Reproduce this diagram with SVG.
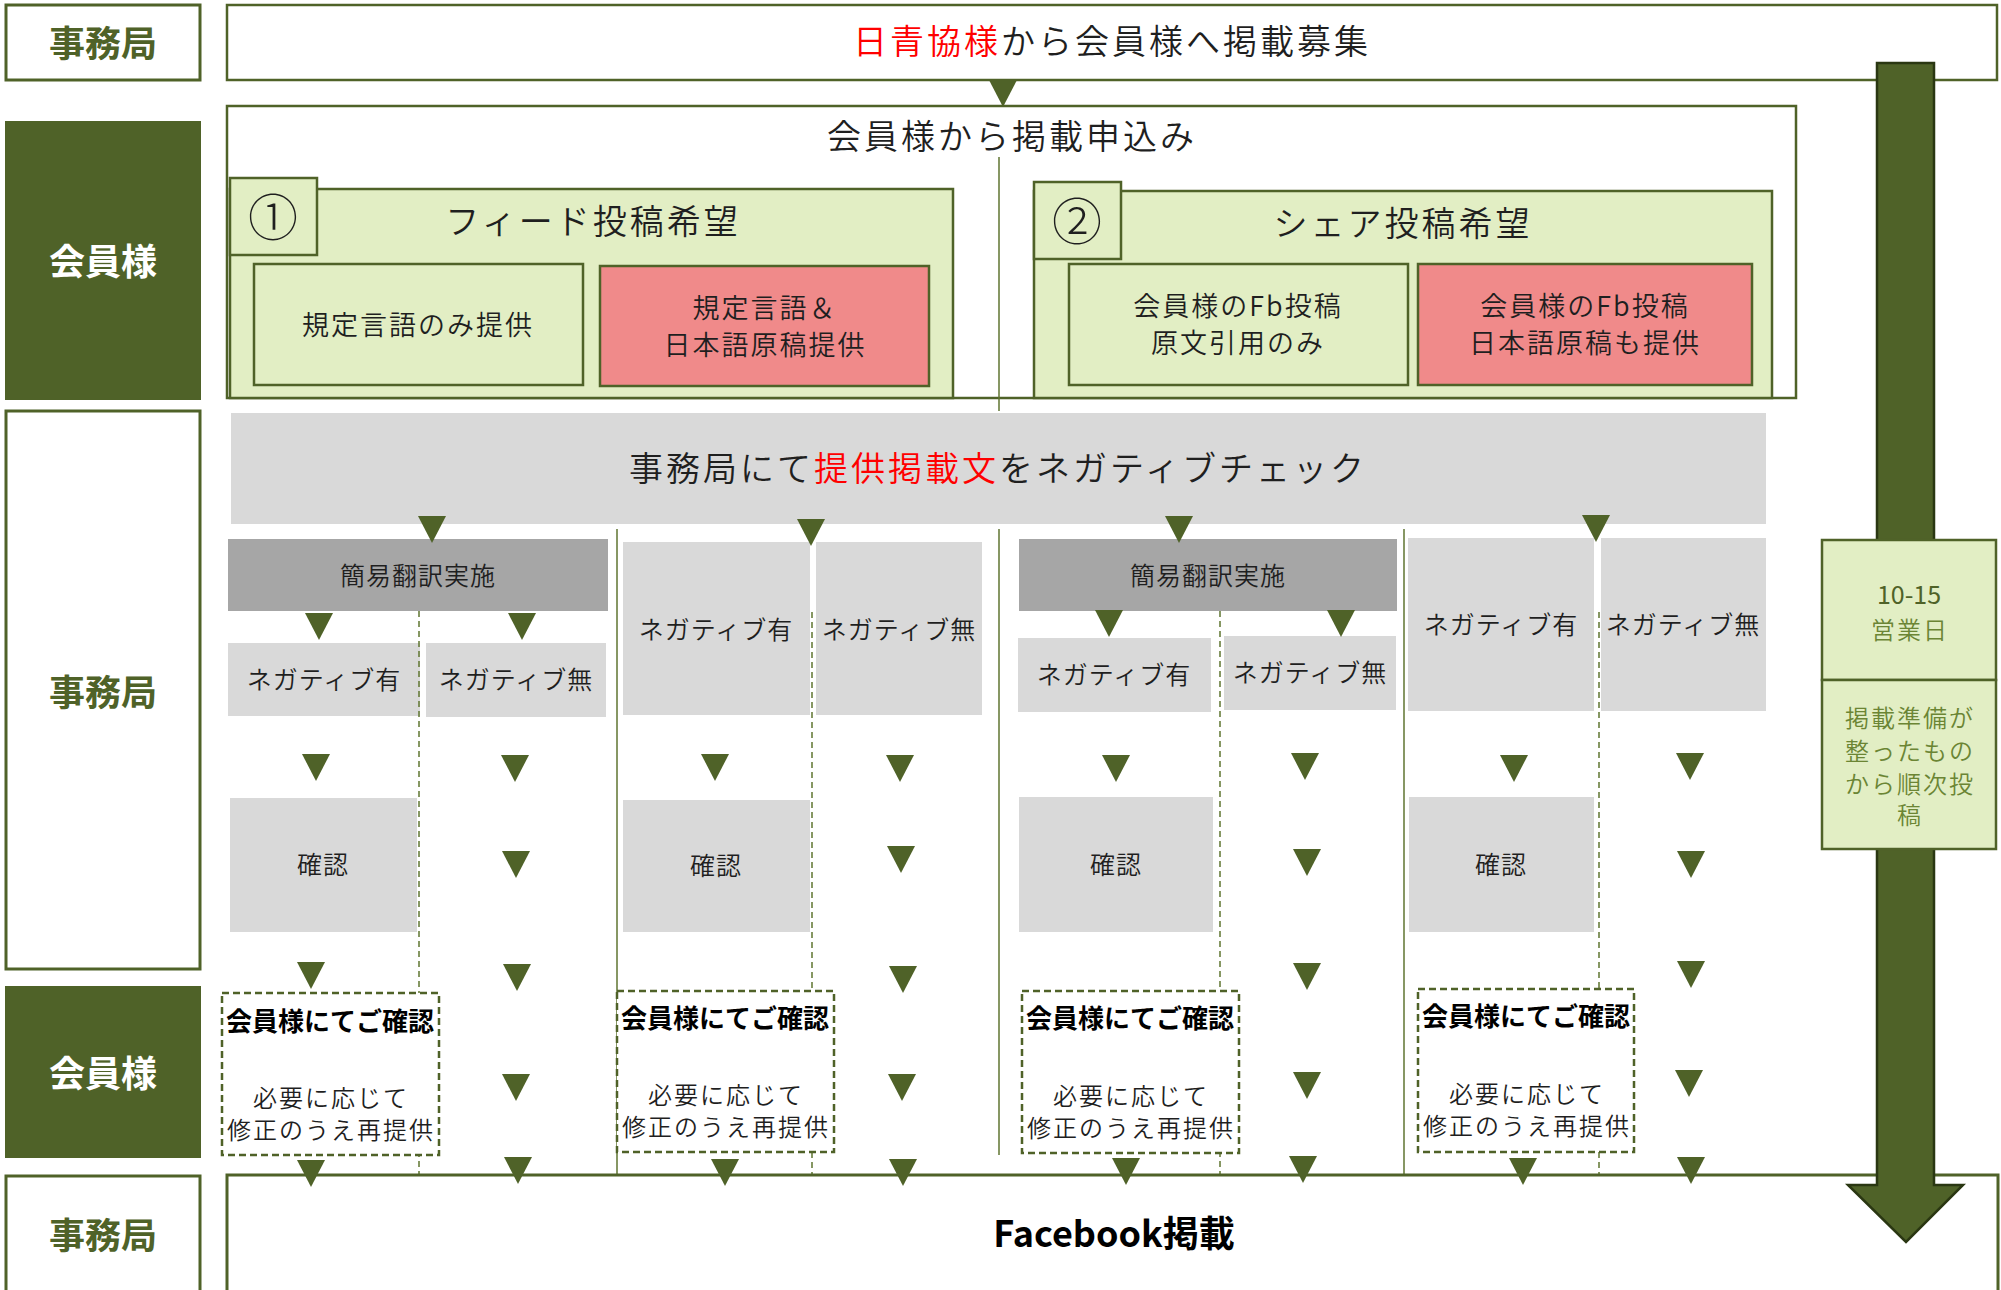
<svg xmlns="http://www.w3.org/2000/svg" xmlns:xlink="http://www.w3.org/1999/xlink" width="2001" height="1290" viewBox="0 0 2001 1290">
<style>
text{font-family:"Noto Sans CJK JP","Noto Sans",sans-serif;dominant-baseline:central;text-anchor:middle;fill:#1f1f1f;font-weight:350}
.lane{fill:#fff;stroke:#4F6228;stroke-width:3}
.lanedark{fill:#4F6228;stroke:#4F6228;stroke-width:2}
.lanetxt{font-size:36px;font-weight:700;fill:#4F6228}
.lanetxtw{font-size:36px;font-weight:700;fill:#fff}
.wbox{fill:#fff;stroke:#4F6228;stroke-width:2.5}
.lg{fill:#E2EEC4;stroke:#4F6228;stroke-width:2.5}
.pink{fill:#F08A8A;stroke:#4F6228;stroke-width:2.5}
.gray{fill:#D9D9D9}
.dgray{fill:#A6A6A6}
.dash{fill:#fff;stroke:#4F6228;stroke-width:2.5;stroke-dasharray:7 4}
.big{font-size:34px;letter-spacing:3px}
.mid{font-size:27px;letter-spacing:2px}
.sm{font-size:25px;letter-spacing:1px}
.note{font-size:24px;letter-spacing:2px}
.red{fill:#FF0000}
.vline{stroke:#5F7530;stroke-width:1.5;fill:none}
.dline{stroke:#5F7530;stroke-width:1.5;stroke-dasharray:6 4;fill:none}
.tri{fill:#4F6228}
.bold{font-size:26px;font-weight:700;fill:#000}
.num{font-size:50px;font-weight:300}
.gtxt{font-size:24px;fill:#6B8534;letter-spacing:2px}
</style>
<defs>
<path id="tri" d="M-14,0 L14,0 L0,27 Z"/>
</defs>

<!-- lane labels -->
<g id="lane-jimukyoku-1"><rect class="lane" x="6" y="5" width="194" height="75"/><text class="lanetxt" x="103" y="41">事務局</text></g>
<g id="lane-kaiin-1"><rect class="lanedark" x="6" y="122" width="194" height="277"/><text class="lanetxtw" x="103" y="259">会員様</text></g>
<g id="lane-jimukyoku-2"><rect class="lane" x="6" y="411" width="194" height="558"/><text class="lanetxt" x="103" y="690">事務局</text></g>
<g id="lane-kaiin-2"><rect class="lanedark" x="6" y="987" width="194" height="170"/><text class="lanetxtw" x="103" y="1071">会員様</text></g>
<g id="lane-jimukyoku-3"><rect class="lane" x="6" y="1176" width="194" height="130"/><text class="lanetxt" x="103" y="1233">事務局</text></g>

<!-- top -->
<g id="boshu"><rect class="wbox" x="227" y="5" width="1770" height="75"/><text class="big" x="1112" y="39"><tspan class="red">日青協様</tspan>から会員様へ掲載募集</text></g>

<g id="moushikomi"><rect class="wbox" x="227" y="106" width="1569" height="292"/><text class="big" x="1012" y="134">会員様から掲載申込み</text></g>

<g id="feed">
<rect class="lg" x="230" y="189" width="723" height="209"/>
<rect class="lg" x="230" y="178" width="87" height="77"/>
<text class="num" x="273" y="214">①</text>
<text class="big" x="593" y="219">フィード投稿希望</text>
</g>
<g id="feed-a"><rect class="lg" x="254" y="264" width="329" height="121"/><text class="mid" x="418" y="323">規定言語のみ提供</text></g>
<g id="feed-b"><rect class="pink" x="600" y="266" width="329" height="120"/><text class="mid" x="765" y="306">規定言語＆</text><text class="mid" x="765" y="343">日本語原稿提供</text></g>

<g id="share">
<rect class="lg" x="1034" y="191" width="738" height="207"/>
<rect class="lg" x="1034" y="182" width="87" height="77"/>
<text class="num" x="1077" y="218">②</text>
<text class="big" x="1403" y="221">シェア投稿希望</text>
</g>
<g id="share-a"><rect class="lg" x="1069" y="264" width="339" height="121"/><text class="mid" x="1238" y="304">会員様のFb投稿</text><text class="mid" x="1238" y="341">原文引用のみ</text></g>
<g id="share-b"><rect class="pink" x="1418" y="264" width="334" height="121"/><text class="mid" x="1585" y="304">会員様のFb投稿</text><text class="mid" x="1585" y="341">日本語原稿も提供</text></g>

<!-- negative check -->
<g id="negcheck"><rect class="gray" x="231" y="413" width="1535" height="111"/><text class="big" x="998" y="466">事務局にて<tspan class="red">提供掲載文</tspan>をネガティブチェック</text></g>

<g id="a-honyaku"><rect class="dgray" x="228" y="539" width="380" height="72"/><text class="sm" x="418" y="574">簡易翻訳実施</text></g>
<g id="a-ari"><rect class="gray" x="228" y="643" width="192" height="73"/><text class="sm" x="324" y="678">ネガティブ有</text></g>
<g id="a-nashi"><rect class="gray" x="426" y="643" width="180" height="74"/><text class="sm" x="516" y="678">ネガティブ無</text></g>
<g id="a-kakunin"><rect class="gray" x="230" y="798" width="187" height="134"/><text class="sm" x="323" y="863">確認</text></g>

<g id="b-ari"><rect class="gray" x="623" y="542" width="187" height="173"/><text class="sm" x="716" y="628">ネガティブ有</text></g>
<g id="b-nashi"><rect class="gray" x="816" y="542" width="166" height="173"/><text class="sm" x="899" y="628">ネガティブ無</text></g>
<g id="b-kakunin"><rect class="gray" x="623" y="800" width="187" height="132"/><text class="sm" x="716" y="864">確認</text></g>

<g id="c-honyaku"><rect class="dgray" x="1019" y="539" width="378" height="72"/><text class="sm" x="1208" y="574">簡易翻訳実施</text></g>
<g id="c-ari"><rect class="gray" x="1018" y="638" width="193" height="74"/><text class="sm" x="1114" y="673">ネガティブ有</text></g>
<g id="c-nashi"><rect class="gray" x="1224" y="636" width="172" height="74"/><text class="sm" x="1310" y="671">ネガティブ無</text></g>
<g id="c-kakunin"><rect class="gray" x="1019" y="797" width="194" height="135"/><text class="sm" x="1116" y="863">確認</text></g>

<g id="d-ari"><rect class="gray" x="1408" y="538" width="186" height="173"/><text class="sm" x="1501" y="623">ネガティブ有</text></g>
<g id="d-nashi"><rect class="gray" x="1601" y="538" width="165" height="173"/><text class="sm" x="1683" y="623">ネガティブ無</text></g>
<g id="d-kakunin"><rect class="gray" x="1409" y="797" width="185" height="135"/><text class="sm" x="1501" y="863">確認</text></g>

<!-- connectors -->
<g id="connectors">
<line class="vline" x1="999" y1="157" x2="999" y2="411"/>
<line class="vline" x1="617" y1="529" x2="617" y2="1176"/>
<line class="vline" x1="999" y1="529" x2="999" y2="1155"/>
<line class="vline" x1="1404" y1="529" x2="1404" y2="1176"/>
<line class="dline" x1="419" y1="611" x2="419" y2="1176"/>
<line class="dline" x1="812" y1="612" x2="812" y2="1176"/>
<line class="dline" x1="1220" y1="611" x2="1220" y2="1176"/>
<line class="dline" x1="1599" y1="612" x2="1599" y2="1176"/>
<g class="tri">
<use xlink:href="#tri" x="1003" y="80"/>
<use xlink:href="#tri" x="432" y="516"/>
<use xlink:href="#tri" x="811" y="519"/>
<use xlink:href="#tri" x="1179" y="516"/>
<use xlink:href="#tri" x="1596" y="515"/>
<use xlink:href="#tri" x="319" y="613"/>
<use xlink:href="#tri" x="522" y="613"/>
<use xlink:href="#tri" x="1109" y="610"/>
<use xlink:href="#tri" x="1341" y="610"/>
<use xlink:href="#tri" x="316" y="754"/>
<use xlink:href="#tri" x="515" y="755"/>
<use xlink:href="#tri" x="715" y="754"/>
<use xlink:href="#tri" x="900" y="755"/>
<use xlink:href="#tri" x="1116" y="755"/>
<use xlink:href="#tri" x="1305" y="753"/>
<use xlink:href="#tri" x="1514" y="755"/>
<use xlink:href="#tri" x="1690" y="753"/>
<use xlink:href="#tri" x="516" y="851"/>
<use xlink:href="#tri" x="901" y="846"/>
<use xlink:href="#tri" x="1307" y="849"/>
<use xlink:href="#tri" x="1691" y="851"/>
<use xlink:href="#tri" x="311" y="962"/>
<use xlink:href="#tri" x="517" y="964"/>
<use xlink:href="#tri" x="903" y="966"/>
<use xlink:href="#tri" x="1307" y="963"/>
<use xlink:href="#tri" x="1691" y="961"/>
<use xlink:href="#tri" x="516" y="1074"/>
<use xlink:href="#tri" x="902" y="1074"/>
<use xlink:href="#tri" x="1307" y="1072"/>
<use xlink:href="#tri" x="1689" y="1070"/>
</g>
</g>

<!-- member confirmation -->
<g id="confirm-a"><rect class="dash" x="222" y="993" width="217" height="162"/><text class="bold" x="330" y="1019">会員様にてご確認</text><text class="note" x="331" y="1096">必要に応じて</text><text class="note" x="331" y="1128">修正のうえ再提供</text></g>
<g id="confirm-b"><rect class="dash" x="617" y="991" width="217" height="161"/><text class="bold" x="725" y="1016">会員様にてご確認</text><text class="note" x="726" y="1093">必要に応じて</text><text class="note" x="726" y="1125">修正のうえ再提供</text></g>
<g id="confirm-c"><rect class="dash" x="1022" y="991" width="217" height="162"/><text class="bold" x="1130" y="1016">会員様にてご確認</text><text class="note" x="1131" y="1094">必要に応じて</text><text class="note" x="1131" y="1126">修正のうえ再提供</text></g>
<g id="confirm-d"><rect class="dash" x="1418" y="989" width="216" height="163"/><text class="bold" x="1526" y="1014">会員様にてご確認</text><text class="note" x="1527" y="1092">必要に応じて</text><text class="note" x="1527" y="1124">修正のうえ再提供</text></g>

<!-- facebook -->
<g id="facebook"><rect class="wbox" x="227" y="1175" width="1771" height="130" style="stroke-width:3"/><text x="1114" y="1231" style="font-size:36px;font-weight:700;fill:#000">Facebook掲載</text></g>

<g id="connectors-bottom" class="tri">
<use xlink:href="#tri" x="311" y="1160"/>
<use xlink:href="#tri" x="518" y="1157"/>
<use xlink:href="#tri" x="725" y="1159"/>
<use xlink:href="#tri" x="903" y="1159"/>
<use xlink:href="#tri" x="1126" y="1158"/>
<use xlink:href="#tri" x="1303" y="1156"/>
<use xlink:href="#tri" x="1523" y="1158"/>
<use xlink:href="#tri" x="1691" y="1157"/>
</g>

<!-- timeline arrow -->
<g id="timeline">
<path d="M1877,63 L1934,63 L1934,1185 L1963,1185 L1906,1242 L1848,1185 L1877,1185 Z" fill="#4F6228" stroke="#2A3712" stroke-width="2.5"/>
</g>
<g id="days">
<rect class="lg" x="1822" y="540" width="174" height="140"/>
<text x="1909" y="593" style="font-size:25px;fill:#4F6228;font-weight:400">10-15</text>
<text class="gtxt" x="1910" y="628">営業日</text>
</g>
<g id="jyunji">
<rect class="lg" x="1822" y="680" width="174" height="169"/>
<text class="gtxt" x="1910" y="716">掲載準備が</text>
<text class="gtxt" x="1910" y="749">整ったもの</text>
<text class="gtxt" x="1910" y="782">から順次投</text>
<text class="gtxt" x="1910" y="813">稿</text>
</g>
</svg>
